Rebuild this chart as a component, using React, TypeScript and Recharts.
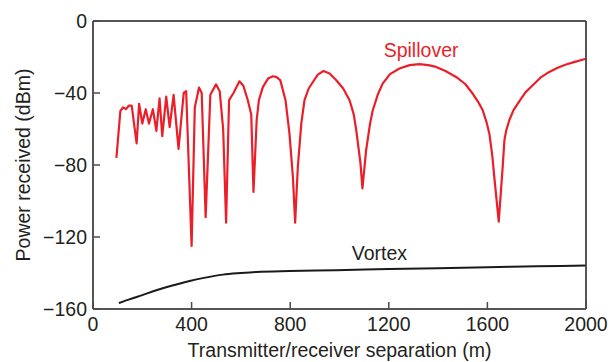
import { LineChart, Line, XAxis, YAxis, CartesianGrid, ReferenceDot, Label } from "recharts";

// spillover power vs separation
const spillX = [
  95, 111, 122, 133, 146, 157, 177, 187, 200, 214, 227, 243, 257, 270, 281, 297, 311, 327, 347, 368, 378, 400,
  413, 430, 441, 457, 476, 499, 514, 528, 540, 552, 570, 594, 610, 628, 642, 651, 664, 673, 689, 710, 730, 745,
  760, 781, 797, 811, 820, 831, 845, 858, 875, 892, 912, 935, 960, 987, 1015, 1041, 1058, 1068, 1085, 1093, 1108,
  1124, 1135, 1155, 1175, 1205, 1243, 1285, 1324, 1360, 1392, 1430, 1473, 1510, 1540, 1565, 1581, 1596, 1608, 1620,
  1628, 1646, 1662, 1669, 1676, 1689, 1706, 1730, 1755, 1784, 1815, 1851, 1885, 1919, 1955, 2000,
];
const spillY = [
  -76, -50, -48, -49, -47, -47, -68, -46, -57, -49, -57, -49, -61, -43, -64, -42, -59, -41, -71, -40, -39, -125,
  -48, -37, -40, -109, -41, -35.2, -39, -60, -112, -44, -40, -33.5, -36, -44, -52, -95, -55, -44, -36.7, -32, -30.7, -31.2,
  -33, -44, -62.6, -86.7, -112, -81, -57, -44, -37.5, -33.9, -29.8, -27.8, -29.2, -32.9, -37.5, -44, -52, -60.7, -79, -93, -71.8,
  -57, -49.6, -41, -34.8, -29.5, -26.4, -24.5, -24, -24.5, -25.5, -27.8, -31.1, -35, -40.3, -45.5, -49.6, -56, -62.6, -75,
  -86.7, -111.5, -81, -66.3, -61, -55, -49.5, -44.5, -39.5, -35.7, -31.5, -28.3, -26, -24.2, -22.7, -21,
];

// vortex power vs separation
const vortexX = [105, 150, 200, 257, 300, 392, 450, 527, 600, 662, 797, 986, 1200, 1400, 1600, 1800, 2000];
const vortexY = [
  -156.7, -154.5, -152.3, -149.6, -147.8, -144.4, -142.7, -140.9, -140, -139.4, -138.9, -138.5, -137.8, -137.3,
  -136.8, -136.3, -135.8,
];

const xTicks = [0, 400, 800, 1200, 1600, 2000];
const yTicks = [0, -40, -80, -120, -160];

const spillData = spillX.map((x, i) => ({ x, y: spillY[i] }));
const vortexData = vortexX.map((x, i) => ({ x, y: vortexY[i] }));

const FONT = "'Liberation Sans', Arial, sans-serif";
const FS = 19.5;
const AXIS = "#4a4a4a";
const TEXT = "#231f20";
const RED = "#ea1f2a";
const TICK = 7;

const fmt = (v: number) => (v < 0 ? "\u2212" + Math.abs(v) : String(v));

const BottomTick = ({ x, y, payload }: any) => (
  <text x={x} y={y + 22} textAnchor="middle" fontSize={FS} fontFamily={FONT} fill={TEXT}>
    {fmt(payload.value)}
  </text>
);

const LeftTick = ({ x, y, payload }: any) => (
  <text x={x - 6} y={y + 7} textAnchor="end" fontSize={FS} fontFamily={FONT} fill={TEXT}>
    {fmt(payload.value)}
  </text>
);

export default function App() {
  return (
    <div style={{ position: "absolute", left: 0, top: 0, background: "#fff" }}>
      <LineChart width={614} height={362} margin={{ top: 20, right: 27, bottom: 0, left: 0 }}>
        {/* top and right edges of the frame */}
        <CartesianGrid
          horizontalValues={[0, -160]}
          verticalValues={[0, 2000]}
          stroke={AXIS}
          strokeWidth={1.5}
        />
        <XAxis
          type="number"
          dataKey="x"
          domain={[0, 2000]}
          ticks={xTicks}
          interval={0}
          height={53}
          tickSize={-TICK}
          tickMargin={TICK}
          tickLine={{ stroke: AXIS, strokeWidth: 1.5 }}
          tick={<BottomTick />}
          stroke={AXIS}
          strokeWidth={1.5}
        >
          <Label
            value="Transmitter/receiver separation (m)"
            position="insideBottom"
            offset={5}
            style={{ fontSize: FS, fontFamily: FONT, fill: TEXT }}
          />
        </XAxis>
        <XAxis
          xAxisId="top"
          orientation="top"
          type="number"
          dataKey="x"
          domain={[0, 2000]}
          ticks={xTicks}
          interval={0}
          height={1}
          tickSize={-TICK}
          tickLine={{ stroke: AXIS, strokeWidth: 1.5 }}
          tick={false}
          stroke={AXIS}
          strokeWidth={1.5}
        />
        <YAxis
          type="number"
          domain={[-160, 0]}
          ticks={yTicks}
          interval={0}
          width={93}
          tickSize={-TICK}
          tickMargin={TICK}
          tickLine={{ stroke: AXIS, strokeWidth: 1.5 }}
          tick={<LeftTick />}
          stroke={AXIS}
          strokeWidth={1.5}
        >
          <Label
            value="Power received (dBm)"
            angle={-90}
            position="insideLeft"
            offset={23}
            style={{ fontSize: FS, fontFamily: FONT, fill: TEXT, textAnchor: "middle" }}
          />
        </YAxis>
        <YAxis
          yAxisId="right"
          orientation="right"
          type="number"
          domain={[-160, 0]}
          ticks={yTicks}
          interval={0}
          width={1}
          tickSize={-TICK}
          tickLine={{ stroke: AXIS, strokeWidth: 1.5 }}
          tick={false}
          stroke={AXIS}
          strokeWidth={1.5}
        />
        <Line
          data={spillData}
          dataKey="y"
          xAxisId="top"
          yAxisId="right"
          type="linear"
          stroke={RED}
          strokeWidth={2.2}
          strokeLinejoin="round"
          dot={false}
          isAnimationActive={false}
        />
        <Line
          data={vortexData}
          dataKey="y"
          type="monotone"
          stroke="#1a1a1a"
          strokeWidth={2}
          dot={false}
          isAnimationActive={false}
        />
        <ReferenceDot x={1331} y={-16.3} r={0} stroke="none" fill="none">
          <Label value="Spillover" position="center" style={{ fontSize: FS, fontFamily: FONT, fill: RED }} />
        </ReferenceDot>
        <ReferenceDot x={1162} y={-129} r={0} stroke="none" fill="none">
          <Label value="Vortex" position="center" style={{ fontSize: FS, fontFamily: FONT, fill: TEXT }} />
        </ReferenceDot>
      </LineChart>
    </div>
  );
}
